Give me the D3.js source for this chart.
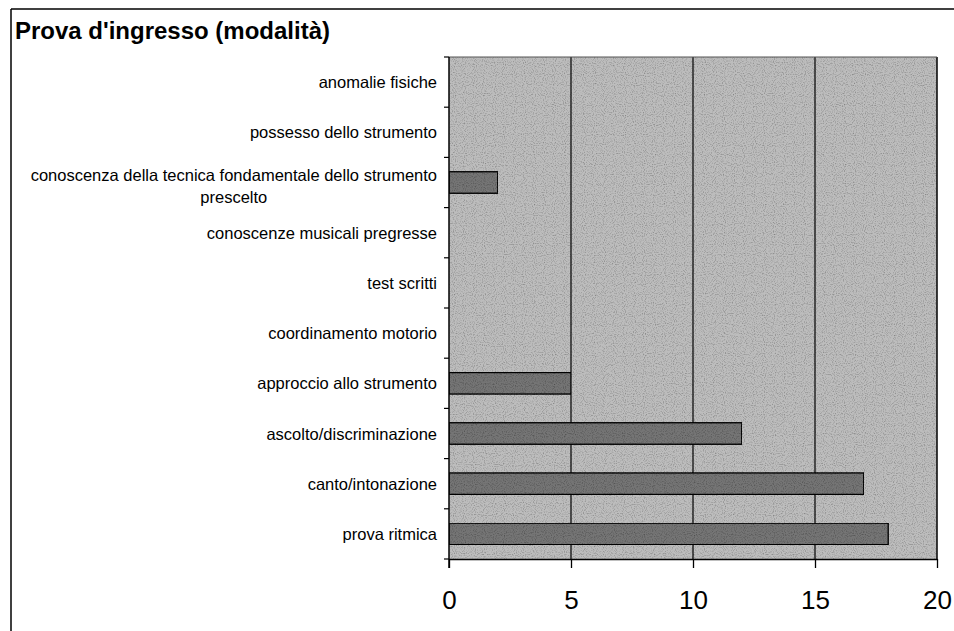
<!DOCTYPE html>
<html>
<head>
<meta charset="utf-8">
<script src="https://cdn.jsdelivr.net/npm/d3@7"></script>
<style>
  html, body { margin: 0; padding: 0; background: #fff; }
  svg { display: block; font-family: "Liberation Sans", Arial, sans-serif; }
</style>
</head>
<body>
<svg id="chart" width="954" height="631"></svg>
<script>
// Categories from top to bottom, with the count for each
const categories = [
  "anomalie fisiche",
  "possesso dello strumento",
  "conoscenza della tecnica fondamentale dello strumento|prescelto",
  "conoscenze musicali pregresse",
  "test scritti",
  "coordinamento motorio",
  "approccio allo strumento",
  "ascolto/discriminazione",
  "canto/intonazione",
  "prova ritmica"
];
const counts = [0, 0, 2, 0, 0, 0, 5, 12, 17, 18];
const xTicks = [0, 5, 10, 15, 20];
const title = "Prova d'ingresso (modalità)";

const svg = d3.select("#chart");
const W = 954, H = 631;
const plot = { left: 449, right: 937, top: 57, bottom: 559 };

// grainy fill used for the plot background and bars
const defs = svg.append("defs");
const grain = defs.append("filter").attr("id", "grain")
  .attr("x", 0).attr("y", 0).attr("width", 1).attr("height", 1);
grain.append("feTurbulence").attr("type", "fractalNoise")
  .attr("baseFrequency", 0.9).attr("numOctaves", 1).attr("seed", 3).attr("result", "n");
grain.append("feColorMatrix").attr("in", "n").attr("type", "matrix")
  .attr("values", "0 0 0 0 0  0 0 0 0 0  0 0 0 0 0  0 0 0 -1.4 0.75").attr("result", "a");
grain.append("feComposite").attr("in", "a").attr("in2", "SourceGraphic").attr("operator", "in").attr("result", "m");
grain.append("feMerge").selectAll("feMergeNode").data(["SourceGraphic", "m"]).join("feMergeNode").attr("in", d => d);

// outer frame
svg.append("line").attr("x1", 11).attr("x2", W).attr("y1", 9).attr("y2", 9)
  .attr("stroke", "#000").attr("stroke-width", 1.5);
svg.append("line").attr("x1", 11).attr("x2", 11).attr("y1", 9).attr("y2", H)
  .attr("stroke", "#000").attr("stroke-width", 1.5);

// title
svg.append("text").attr("x", 15).attr("y", 39)
  .attr("font-size", 23).attr("font-weight", "bold").attr("fill", "#000")
  .attr("textLength", 315).attr("lengthAdjust", "spacingAndGlyphs")
  .text(title);

const x = d3.scaleLinear().domain([0, 20]).range([plot.left, plot.right]);
const y = d3.scaleBand().domain(categories).range([plot.top, plot.bottom]).paddingInner(0).paddingOuter(0);
const barH = 21.5;

// plot background
svg.append("rect")
  .attr("x", plot.left).attr("y", plot.top)
  .attr("width", plot.right - plot.left).attr("height", plot.bottom - plot.top)
  .attr("fill", "#bdbdbd").attr("filter", "url(#grain)");

// vertical gridlines
svg.append("g").selectAll("line").data(xTicks.filter(t => t > 0 && t < 20)).join("line")
  .attr("x1", d => x(d)).attr("x2", d => x(d))
  .attr("y1", plot.top).attr("y2", plot.bottom)
  .attr("stroke", "#000").attr("stroke-width", 1.2);

// right and top plot borders
svg.append("line").attr("x1", plot.right).attr("x2", plot.right)
  .attr("y1", plot.top).attr("y2", plot.bottom).attr("stroke", "#000").attr("stroke-width", 1.5);
svg.append("line").attr("x1", plot.left).attr("x2", plot.right)
  .attr("y1", plot.top).attr("y2", plot.top).attr("stroke", "#555").attr("stroke-width", 1);

// bars
svg.append("g").selectAll("rect").data(categories.map((c, i) => ({ c, v: counts[i] })).filter(d => d.v > 0))
  .join("rect")
  .attr("x", x(0)).attr("y", d => y(d.c) + (y.bandwidth() - barH) / 2)
  .attr("width", d => x(d.v) - x(0)).attr("height", barH)
  .attr("fill", "#747474").attr("stroke", "#000").attr("stroke-width", 1.3)
  .attr("filter", "url(#grain)");

// left axis with ticks at category boundaries
const yAxisG = svg.append("g");
yAxisG.append("line").attr("x1", plot.left).attr("x2", plot.left)
  .attr("y1", plot.top).attr("y2", plot.bottom + 9).attr("stroke", "#000").attr("stroke-width", 1.5);
yAxisG.selectAll("line.tk").data(d3.range(categories.length + 1)).join("line").attr("class", "tk")
  .attr("x1", plot.left - 5).attr("x2", plot.left)
  .attr("y1", i => plot.top + i * y.step()).attr("y2", i => plot.top + i * y.step())
  .attr("stroke", "#000").attr("stroke-width", 1.2);

// category labels (multi-line labels are centred on each other, right aligned as a block)
const labelRight = 437;
categories.forEach(c => {
  const lines = c.split("|");
  const cy = y(c) + y.bandwidth() / 2;
  const lh = 22;
  const g = svg.append("g");
  const texts = lines.map((ln, i) => g.append("text")
    .attr("font-size", 16.5).attr("fill", "#000")
    .attr("y", cy + (i - (lines.length - 1) / 2) * lh + 6 + (lines.length > 1 ? 3 : 0))
    .text(ln));
  const widths = texts.map(t => t.node().getComputedTextLength());
  const maxW = d3.max(widths);
  const centre = labelRight - maxW / 2;
  texts.forEach(t => t.attr("x", centre).attr("text-anchor", "middle"));
});

// bottom axis
const xAxis = d3.axisBottom(x).tickValues(xTicks).tickSize(9).tickSizeOuter(0).tickPadding(23);
const xg = svg.append("g").attr("transform", `translate(0,${plot.bottom})`).call(xAxis);
xg.select(".domain").attr("stroke", "#000").attr("stroke-width", 1.5);
xg.selectAll(".tick line").attr("stroke", "#000").attr("stroke-width", 1.3);
xg.selectAll(".tick text").attr("font-size", 26).attr("fill", "#000")
  .attr("font-family", "'Liberation Sans', Arial, sans-serif");
</script>
</body>
</html>
